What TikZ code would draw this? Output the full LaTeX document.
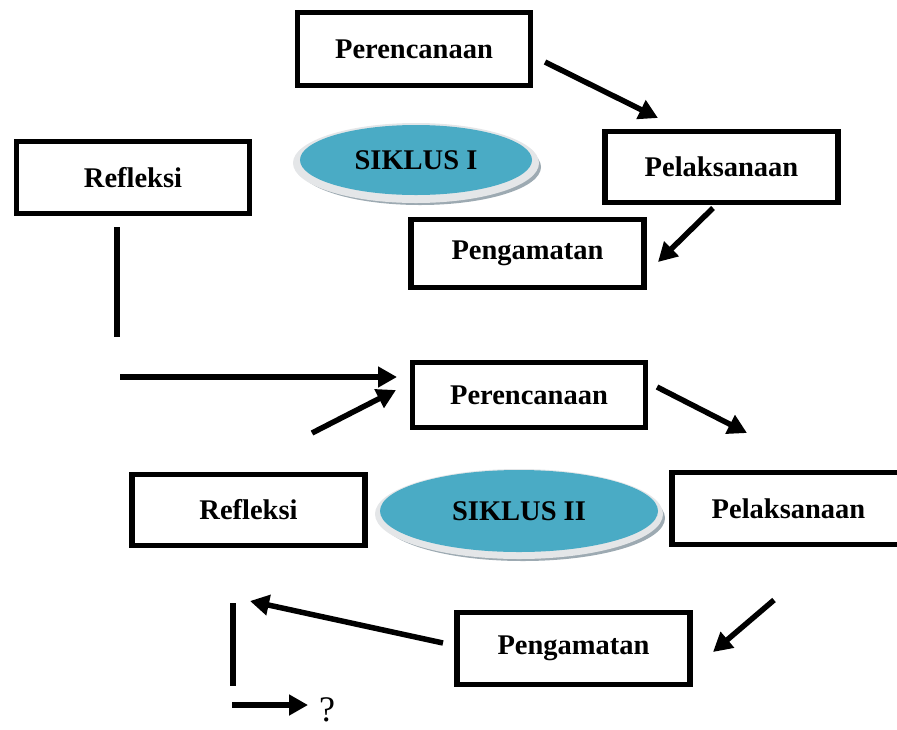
\documentclass[tikz,border=0pt]{standalone}
\usepackage{fontspec}
\setmainfont{Liberation Serif}
\usetikzlibrary{arrows.meta,shapes.geometric}
\definecolor{sikblue}{HTML}{4AABC5}
\definecolor{rimgray}{HTML}{E4E6E8}
\definecolor{shadgray}{HTML}{9DAAB2}
\tikzset{
  stepbox/.style={draw, line width=5.5pt, rectangle, minimum width=233pt, inner sep=0pt,
    font=\fontsize{28.5}{34}\selectfont\bfseries},
  sikel/.style={ellipse, fill=sikblue, inner sep=0pt, font=\fontsize{28.5}{34}\selectfont\bfseries},
  conn/.style={line width=5.5pt, -{Triangle[length=19pt,width=20pt]}},
  plainline/.style={line width=5.5pt}
}
\begin{document}
\begin{tikzpicture}[x=1pt,y=-1pt]
\useasboundingbox (0,0) rectangle (897,729);
% ellipse I shadows
\fill[shadgray] (420,167) ellipse [x radius=121pt, y radius=38pt];
\fill[rimgray] (416,163) ellipse [x radius=123pt, y radius=40pt];
\node[sikel, minimum width=232pt, minimum height=70pt] (s1) at (416,160) {SIKLUS I};
% ellipse II shadows
\fill[shadgray] (523,518) ellipse [x radius=142pt, y radius=43pt];
\fill[rimgray] (519,514) ellipse [x radius=144pt, y radius=45pt];
\node[sikel, minimum width=278pt, minimum height=82pt] (s2) at (519,511) {SIKLUS II};

% boxes cycle I
\node[stepbox, minimum height=73pt] (p1) at (414,49) {Perencanaan};
\node[stepbox, minimum height=71pt] (l1) at (721.5,167) {Pelaksanaan};
\node[stepbox, minimum height=72pt] (r1) at (133,177.5) {Refleksi};
\node[stepbox, minimum height=68pt] (g1) at (527.5,253.5) {Pengamatan};
% boxes cycle II
\node[stepbox, minimum height=65pt] (p2) at (529,395) {Perencanaan};
\node[stepbox, minimum height=72pt] (l2) at (788.5,508.5) {Pelaksanaan};
\node[stepbox, minimum height=71pt] (r2) at (248.5,510) {Refleksi};
\node[stepbox, minimum height=72pt] (g2) at (573.5,648.5) {Pengamatan};

% connector end points
\coordinate (a1s) at (545,62);  \coordinate (a1e) at (658,118);
\coordinate (a2s) at (713,208); \coordinate (a2e) at (658,262);
\coordinate (v1s) at (117,227); \coordinate (v1e) at (117,337);
\coordinate (a3s) at (120,377); \coordinate (a3e) at (397,377);
\coordinate (a4s) at (312,433); \coordinate (a4e) at (396,390);
\coordinate (a5s) at (657,387); \coordinate (a5e) at (747,433);
\coordinate (a6s) at (774,600); \coordinate (a6e) at (713,652);
\coordinate (a7s) at (443,643); \coordinate (a7e) at (250,601);
\coordinate (v2s) at (233,603); \coordinate (v2e) at (233,686);
\coordinate (a8s) at (232,705); \coordinate (a8e) at (308,705);
\node[font=\fontsize{36}{40}\selectfont, inner sep=0pt] (q) at (327,710) {?};

\draw[conn] (a1s) -- (a1e);
\draw[conn] (a2s) -- (a2e);
\draw[plainline] (v1s) -- (v1e);
\draw[conn] (a3s) -- (a3e);
\draw[conn] (a4s) -- (a4e);
\draw[conn] (a5s) -- (a5e);
\draw[conn] (a6s) -- (a6e);
\draw[conn] (a7s) -- (a7e);
\draw[plainline] (v2s) -- (v2e);
\draw[conn] (a8s) -- (a8e);
\end{tikzpicture}
\end{document}
